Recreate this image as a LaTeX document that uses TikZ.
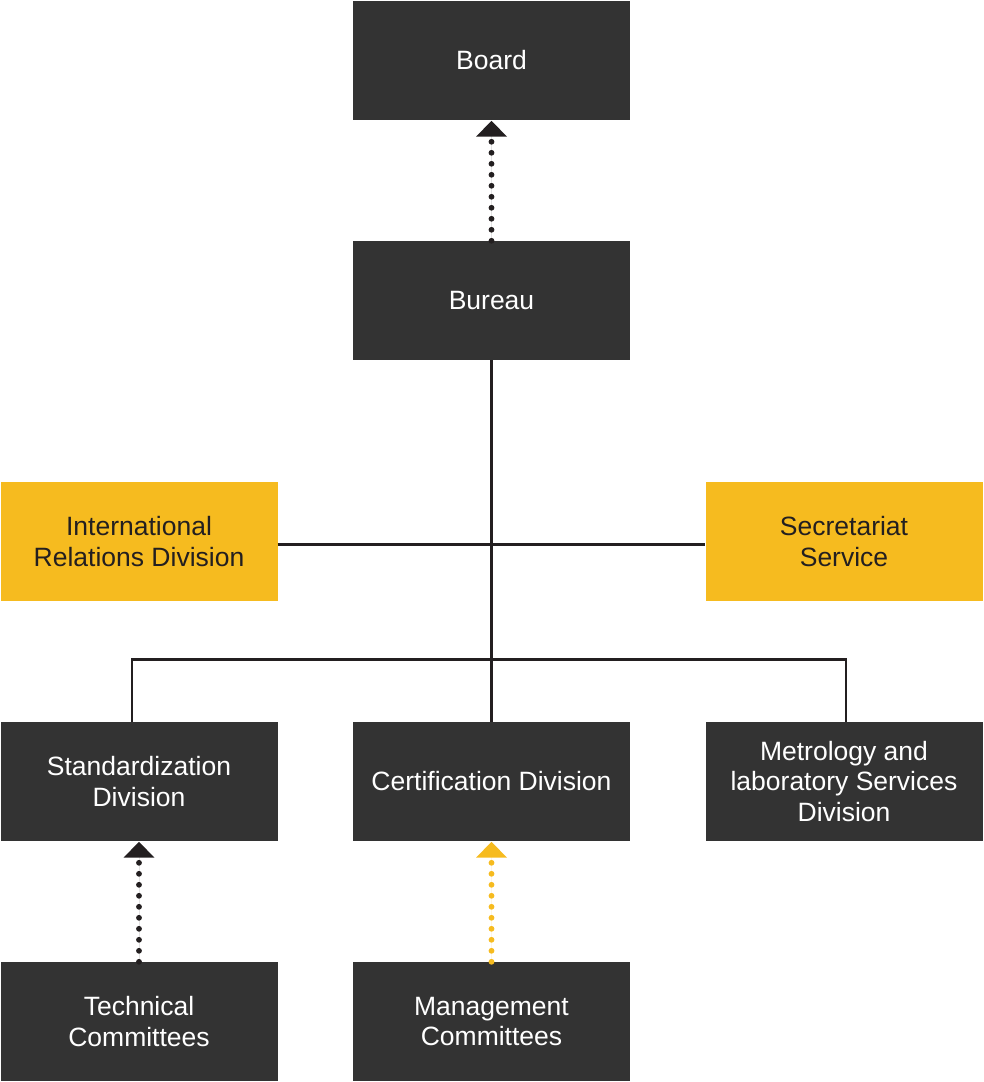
\documentclass[tikz,border=0pt]{standalone}
\usepackage{fontspec}
\setmainfont{Liberation Sans}
\usetikzlibrary{arrows.meta}
\definecolor{boxdark}{HTML}{333333}
\definecolor{boxyel}{HTML}{F6BB1F}
\definecolor{ink}{HTML}{231F20}
\begin{document}
\begin{tikzpicture}[x=1pt,y=-1pt,
  darkbox/.style={fill=boxdark,text=white,minimum width=277pt,minimum height=119pt,inner sep=0pt,align=center,font=\fontsize{26.5}{30.5}\selectfont},
  yelbox/.style={darkbox,fill=boxyel,text=ink},
  conn/.style={draw=ink,line width=2.3pt},
  dotarrow/.style={line width=5.8pt,line cap=round,dash pattern=on 0pt off 11pt,-{Triangle[width=30pt,length=16pt]}}
]
\useasboundingbox (0,0) rectangle (983,1082);
\node[darkbox] (board) at (491.5,60.5) {Board};
\node[darkbox] (bureau) at (491.5,300.5) {Bureau};
\node[yelbox] (ird) at (139,541.5) {International\\Relations Division};
\node[yelbox] (sec) at (844,541.5) {Secretariat\\Service};
\node[darkbox] (std) at (139,781.5) {Standardization\\Division};
\node[darkbox] (cert) at (491.5,781.5) {Certification Division};
\node[darkbox] (met) at (844,781.5) {Metrology and\\laboratory Services\\Division};
\node[darkbox] (tech) at (139,1021.5) {Technical\\Committees};
\node[darkbox] (mgmt) at (491.5,1021.5) {Management\\Committees};
\coordinate (bus) at (491.5,659.5);
\draw[conn] (bureau.south) -- (cert.north);
\draw[conn] ([yshift=-3pt]ird.east) -- ([yshift=-3pt]sec.west);
\draw[conn] ([xshift=-7pt]std.north) |- (bus) -| ([xshift=2pt]met.north);
\draw[dotarrow,draw=ink,fill=ink] (bureau.north) -- ([yshift=-0.5pt]board.south);
\draw[dotarrow,draw=ink,fill=ink] (tech.north) -- ([yshift=-0.5pt]std.south);
\draw[dotarrow,draw=boxyel,fill=boxyel] (mgmt.north) -- ([yshift=-0.5pt]cert.south);
\end{tikzpicture}
\end{document}
